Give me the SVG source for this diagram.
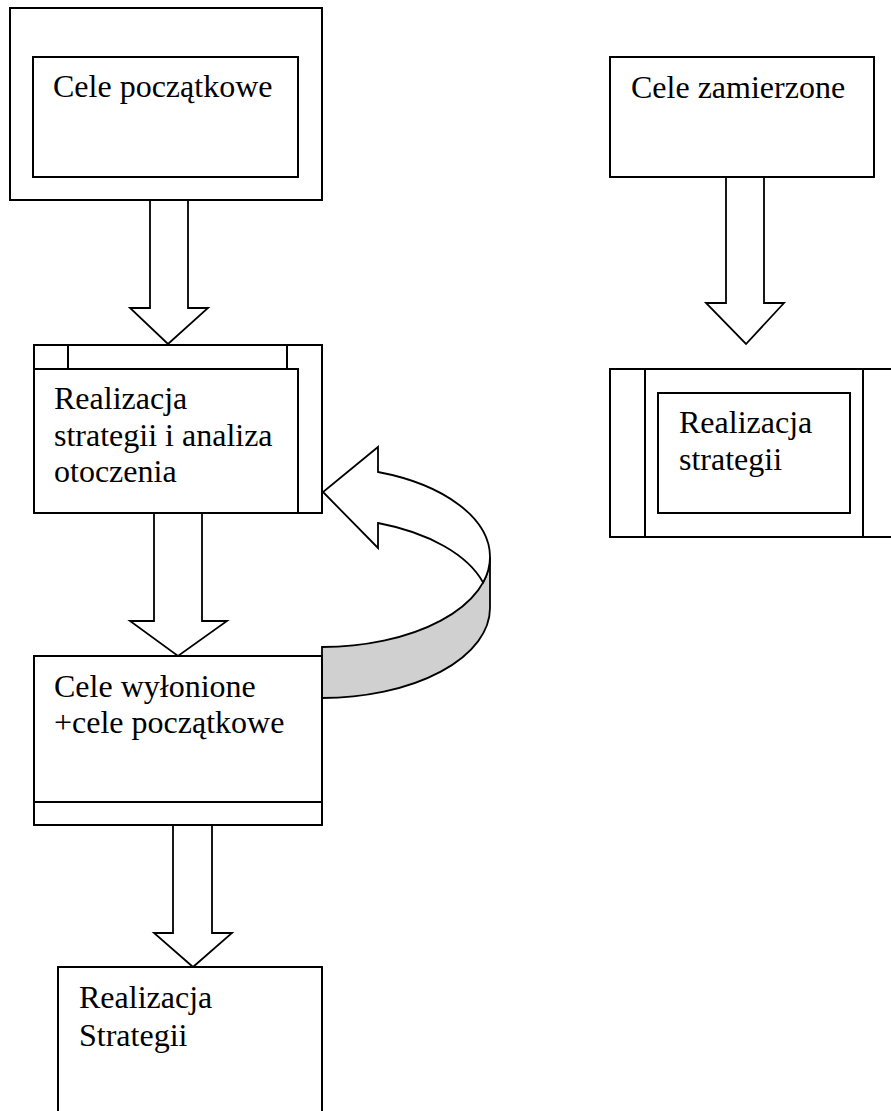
<svg xmlns="http://www.w3.org/2000/svg" width="891" height="1111" viewBox="0 0 891 1111">
  <style>
    .box { fill: #ffffff; stroke: #000000; stroke-width: 2; }
    .ln { fill: none; stroke: #000000; stroke-width: 2; }
    .arrow { fill: #ffffff; stroke: #000000; stroke-width: 1.8; stroke-linejoin: miter; }
    .band { fill: #d0d0d0; stroke: #000000; stroke-width: 1.8; }
    .label { font-family: "Liberation Serif", "Times New Roman", serif; font-size: 32px; fill: #000000; }
  </style>
  <rect width="891" height="1111" fill="#ffffff"/>

  <!-- connectors -->
  <g id="connectors">
    <!-- start goals to strategy/analysis -->
    <path class="arrow" d="M150 200 L188 200 L188 308 L208 308 L168 344 L130 308 L150 308 Z"/>
    <!-- strategy/analysis to emerged goals -->
    <path class="arrow" d="M154 513 L202 513 L202 621 L227 621 L178 656 L130 621 L154 621 Z"/>
    <!-- emerged goals to implementation -->
    <path class="arrow" d="M173 825 L212 825 L212 933 L232 933 L193 967 L154 933 L173 933 Z"/>
    <!-- intended goals to implementation -->
    <path class="arrow" d="M726 177 L764 177 L764 303 L784 303 L746 344 L706 303 L726 303 Z"/>
    <!-- feedback loop: shaded underside of the curved ribbon -->
    <path class="band" d="M490 557 A168 90 0 0 1 322 647 L322 698 A168 90 0 0 0 490 608 Z"/>
    <!-- feedback loop: curved arrow face with head -->
    <path class="arrow" d="M378 472 A168 90 0 0 1 490 557 A168 90 0 0 1 483.1 582.5 A168 90 0 0 0 378 523 L378 548 L323 492 L378 447 Z"/>
  </g>

  <!-- Cele początkowe -->
  <g id="node-cele-poczatkowe">
    <rect class="box" x="10" y="8" width="312" height="192"/>
    <rect class="box" x="33" y="57" width="265" height="120"/>
    <text class="label" x="53" y="97">Cele początkowe</text>
  </g>

  <!-- Realizacja strategii i analiza otoczenia -->
  <g id="node-realizacja-analiza">
    <rect class="box" x="34" y="345" width="288" height="168"/>
    <rect class="box" x="34" y="369" width="264" height="144"/>
    <line class="ln" x1="68" y1="345" x2="68" y2="369"/>
    <line class="ln" x1="287" y1="345" x2="287" y2="369"/>
    <text class="label" x="54" y="409">Realizacja</text>
    <text class="label" x="54" y="446">strategii i analiza</text>
    <text class="label" x="54" y="482">otoczenia</text>
  </g>

  <!-- Cele wyłonione + cele początkowe -->
  <g id="node-cele-wylonione">
    <rect class="box" x="34" y="656" width="288" height="169"/>
    <line class="ln" x1="34" y1="802" x2="322" y2="802"/>
    <text class="label" x="54" y="697">Cele wyłonione</text>
    <text class="label" x="54" y="733">+cele początkowe</text>
  </g>

  <!-- Realizacja Strategii -->
  <g id="node-realizacja-strategii-final">
    <rect class="box" x="58" y="967" width="264" height="160"/>
    <text class="label" x="79" y="1008">Realizacja</text>
    <text class="label" x="79" y="1046">Strategii</text>
  </g>

  <!-- Cele zamierzone -->
  <g id="node-cele-zamierzone">
    <rect class="box" x="610" y="57" width="264" height="120"/>
    <text class="label" x="631" y="98">Cele zamierzone</text>
  </g>

  <!-- Realizacja strategii (right) -->
  <g id="node-realizacja-strategii">
    <rect class="box" x="610" y="369" width="295" height="168"/>
    <line class="ln" x1="645" y1="369" x2="645" y2="537"/>
    <line class="ln" x1="863" y1="369" x2="863" y2="537"/>
    <rect class="box" x="658" y="393" width="192" height="120"/>
    <text class="label" x="679" y="433">Realizacja</text>
    <text class="label" x="679" y="470">strategii</text>
  </g>
</svg>
